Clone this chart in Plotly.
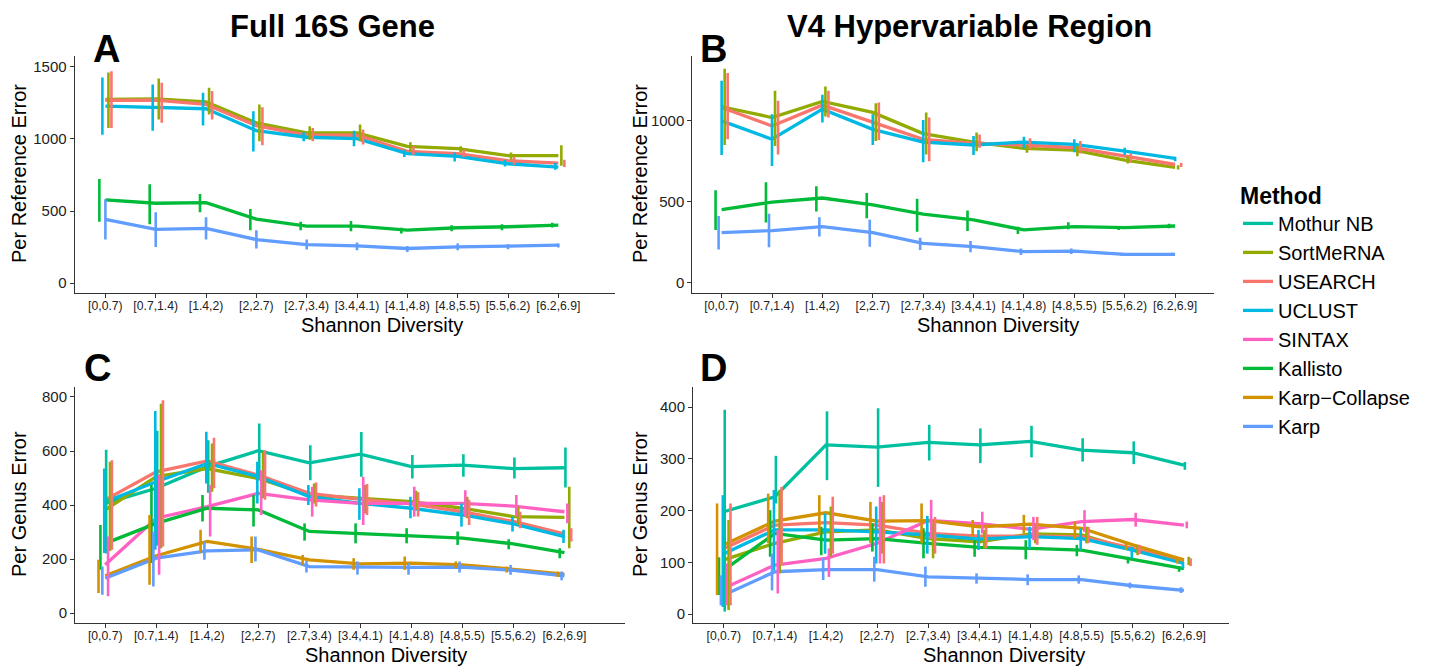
import plotly.graph_objects as go

W, H = 1429, 666

CATEGORIES = ["[0,0.7)", "[0.7,1.4)", "[1.4,2)", "[2,2.7)", "[2.7,3.4)",
              "[3.4,4.1)", "[4.1,4.8)", "[4.8,5.5)", "[5.5,6.2)", "[6.2,6.9]"]
METHODS = ["Mothur NB", "SortMeRNA", "USEARCH", "UCLUST", "SINTAX",
           "Kallisto", "Karp-Collapse", "Karp"]
LEGEND_LABELS = {"Karp-Collapse": "Karp\u2212Collapse"}

# ---------------- Panel A: Full 16S, per reference error ----------------
A_MEAN = {
    "SortMeRNA": [1275, 1279, 1258, 1112, 1042, 1042, 949, 933, 884, 884],
    "USEARCH":   [1268, 1270, 1240, 1093, 1026, 1026, 914, 898, 849, 833],
    "UCLUST":    [1228, 1221, 1210, 1058, 1012, 1003, 898, 879, 828, 805],
    "Kallisto":  [577, 554, 558, 444, 395, 395, 367, 384, 391, 402],
    "Karp":      [442, 372, 379, 302, 267, 258, 240, 251, 256, 263],
}
A_LO = {
    "SortMeRNA": [1077, 1135, 1170, 984, 995, 984, 914, 907, 856, 814],
    "USEARCH":   [1077, 1112, 1135, 956, 984, 961, 891, 875, 821, 805],
    "UCLUST":    [1030, 1058, 1093, 914, 984, 949, 875, 844, 809, 786],
    "Kallisto":  [426, 409, 491, 367, 367, 360, 344, 360, 367, 386],
    "Karp":      [302, 251, 302, 240, 233, 228, 216, 228, 235, 247],
}
A_HI = {
    "SortMeRNA": [1461, 1419, 1356, 1240, 1088, 1100, 977, 949, 907, 956],
    "USEARCH":   [1470, 1391, 1333, 1221, 1077, 1065, 949, 926, 879, 856],
    "UCLUST":    [1426, 1379, 1321, 1193, 1047, 1058, 926, 907, 856, 833],
    "Kallisto":  [723, 686, 619, 514, 426, 430, 384, 402, 409, 419],
    "Karp":      [581, 491, 456, 367, 302, 281, 258, 274, 270, 274],
}

# ---------------- Panel B: V4, per reference error ----------------
B_MEAN = {
    "SortMeRNA": [1083, 1017, 1116, 1048, 918, 866, 827, 817, 755, 711],
    "USEARCH":   [1078, 965, 1093, 986, 883, 858, 848, 831, 779, 728],
    "UCLUST":    [996, 883, 1068, 944, 866, 848, 866, 852, 810, 765],
    "Kallisto":  [450, 497, 522, 480, 423, 388, 326, 346, 340, 350],
    "Karp":      [309, 322, 346, 309, 243, 223, 192, 196, 175, 175],
}
B_LO = {
    "SortMeRNA": [848, 841, 1023, 872, 790, 810, 800, 779, 734, 697],
    "USEARCH":   [883, 790, 1017, 878, 748, 831, 821, 796, 738, 713],
    "UCLUST":    [786, 718, 986, 848, 742, 786, 827, 804, 786, 748],
    "Kallisto":  [326, 371, 439, 398, 315, 319, 301, 330, 326, 336],
    "Karp":      [206, 219, 285, 223, 202, 188, 171, 177, 165, 165],
}
B_HI = {
    "SortMeRNA": [1316, 1182, 1208, 1105, 1048, 924, 848, 841, 779, 724],
    "USEARCH":   [1291, 1120, 1182, 1109, 1017, 913, 889, 872, 796, 738],
    "UCLUST":    [1243, 1037, 1157, 1037, 1002, 903, 899, 883, 831, 775],
    "Kallisto":  [569, 619, 594, 553, 518, 445, 346, 373, 350, 363],
    "Karp":      [412, 425, 404, 388, 278, 258, 212, 212, 186, 186],
}

# ---------------- Panel C: Full 16S, per genus error ----------------
C_MEAN = {
    "Mothur NB":     [406, 462, 542, 601, 556, 588, 542, 548, 535, 538],
    "SortMeRNA":     [382, 505, 535, 498, 437, 425, 412, 388, 357, 354],
    "USEARCH":       [419, 523, 563, 511, 443, 421, 404, 375, 339, 293],
    "UCLUST":        [412, 486, 554, 505, 431, 406, 388, 363, 330, 283],
    "SINTAX":        [179, 351, 394, 443, 419, 406, 406, 406, 396, 375],
    "Kallisto":      [258, 332, 388, 382, 302, 295, 286, 277, 256, 224],
    "Karp-Collapse": [138, 212, 265, 236, 197, 182, 185, 178, 162, 144],
    "Karp":          [129, 203, 230, 234, 172, 169, 169, 170, 158, 138],
}
C_LO = {
    "Mothur NB":     [220, 250, 445, 505, 492, 505, 498, 505, 498, 465],
    "SortMeRNA":     [230, 240, 449, 425, 406, 369, 382, 351, 326, 240],
    "USEARCH":       [234, 246, 462, 419, 394, 363, 357, 326, 314, 265],
    "UCLUST":        [222, 234, 480, 406, 400, 345, 351, 320, 302, 259],
    "SINTAX":        [62, 142, 283, 363, 357, 326, 357, 357, 357, 332],
    "Kallisto":      [160, 185, 339, 320, 268, 258, 258, 252, 236, 203],
    "Karp-Collapse": [74, 105, 222, 185, 178, 160, 160, 166, 150, 133],
    "Karp":          [68, 98, 197, 191, 150, 142, 142, 150, 142, 121],
}
C_HI = {
    "Mothur NB":     [605, 675, 640, 702, 621, 670, 585, 588, 576, 613],
    "SortMeRNA":     [560, 775, 628, 597, 480, 474, 453, 431, 394, 468],
    "USEARCH":       [566, 788, 649, 603, 483, 478, 447, 419, 375, 314],
    "UCLUST":        [535, 748, 671, 560, 474, 462, 431, 406, 357, 308],
    "SINTAX":        [283, 511, 474, 529, 468, 505, 468, 455, 437, 406],
    "Kallisto":      [326, 474, 437, 437, 332, 332, 314, 302, 273, 240],
    "Karp-Collapse": [197, 363, 308, 283, 215, 203, 209, 191, 172, 154],
    "Karp":          [172, 302, 265, 283, 193, 191, 185, 191, 178, 154],
}

# ---------------- Panel D: V4, per genus error ----------------
D_MEAN = {
    "Mothur NB":     [198, 227, 327, 323, 332, 327, 334, 317, 312, 288],
    "SortMeRNA":     [105, 137, 159, 163, 146, 140, 155, 153, 124, 105],
    "USEARCH":       [127, 172, 177, 172, 156, 151, 151, 150, 127, 101],
    "UCLUST":        [117, 163, 163, 159, 153, 145, 150, 146, 124, 98],
    "SINTAX":        [50, 95, 108, 137, 181, 175, 164, 179, 183, 172],
    "Kallisto":      [85, 156, 143, 146, 137, 129, 127, 124, 106, 88],
    "Karp-Collapse": [134, 180, 196, 180, 181, 169, 174, 166, 134, 105],
    "Karp":          [37, 82, 86, 86, 72, 69, 67, 67, 55, 46],
}
D_LO = {
    "Mothur NB":     [5, 214, 259, 246, 297, 292, 303, 295, 290, 279],
    "SortMeRNA":     [8, 79, 111, 117, 108, 127, 137, 137, 114, 95],
    "USEARCH":       [17, 95, 117, 98, 117, 127, 134, 137, 116, 93],
    "UCLUST":        [14, 85, 117, 98, 117, 124, 127, 124, 108, 88],
    "SINTAX":        [17, 40, 72, 98, 146, 156, 143, 159, 169, 166],
    "Kallisto":      [37, 111, 114, 121, 108, 111, 106, 112, 98, 82],
    "Karp-Collapse": [37, 137, 153, 137, 137, 150, 156, 146, 124, 98],
    "Karp":          [17, 46, 66, 63, 53, 59, 56, 59, 50, 41],
}
D_HI = {
    "Mothur NB":     [395, 306, 392, 398, 366, 359, 364, 340, 334, 294],
    "SortMeRNA":     [182, 240, 208, 217, 176, 163, 172, 169, 134, 111],
    "USEARCH":       [214, 246, 227, 230, 188, 169, 188, 169, 134, 108],
    "UCLUST":        [230, 240, 195, 208, 190, 163, 169, 166, 130, 101],
    "SINTAX":        [98, 163, 127, 227, 221, 198, 188, 201, 196, 179],
    "Kallisto":      [110, 201, 169, 176, 166, 143, 143, 134, 111, 93],
    "Karp-Collapse": [214, 233, 230, 217, 214, 182, 192, 179, 140, 109],
    "Karp":          [75, 117, 108, 111, 92, 79, 77, 75, 61, 52],
}

A_YTICKS = [0, 500, 1000, 1500]
B_YTICKS = [0, 500, 1000]
C_YTICKS = [0, 200, 400, 600, 800]
D_YTICKS = [0, 100, 200, 300, 400]

# ---------------- styling ----------------
COLORS = {
    "Mothur NB": "#00C19F", "SortMeRNA": "#93AA00", "USEARCH": "#F8766D",
    "UCLUST": "#00B9E3", "SINTAX": "#FF61C3", "Kallisto": "#00BA38",
    "Karp-Collapse": "#D39200", "Karp": "#619CFF",
}
DODGE_WIDTH = 0.3
FONT = "Liberation Sans, Arial, sans-serif"

panels = [
    # name, mean, lo, hi, dodge order, xdomain(px), ydomain(px top,bottom), xrange, yrange, yticks
    ("1", A_MEAN, A_LO, A_HI, ["Kallisto", "UCLUST", "Karp", "SortMeRNA", "USEARCH"],
     (74.7, 614.7), (56, 293), (-0.61, 10.12), (-69, 1576), A_YTICKS),
    ("2", B_MEAN, B_LO, B_HI, ["Kallisto", "Karp", "UCLUST", "SortMeRNA", "USEARCH"],
     (692.4, 1214.4), (56, 293), (-0.58, 9.78), (-62, 1395), B_YTICKS),
    ("3", C_MEAN, C_LO, C_HI, ["Karp-Collapse", "Kallisto", "Karp", "UCLUST",
                               "Mothur NB", "SINTAX", "SortMeRNA", "USEARCH"],
     (75.1, 624.7), (387, 623), (-0.59, 10.18), (-37, 837), C_YTICKS),
    ("4", D_MEAN, D_LO, D_HI, ["Karp-Collapse", "Kallisto", "Karp", "UCLUST",
                               "Mothur NB", "SINTAX", "SortMeRNA", "USEARCH"],
     (693.1, 1228.9), (387, 623), (-0.6, 9.88), (-17, 439), D_YTICKS),
]

fig = go.Figure()
layout = dict(
    width=W, height=H, margin=dict(l=0, r=0, t=0, b=0),
    paper_bgcolor="white", plot_bgcolor="white",
    font=dict(family=FONT, color="#222"),
    showlegend=True,
)

xpos = list(range(len(CATEGORIES)))

for name, MEAN, LO, HI, order, xd, yd, xr, yr, yticks in panels:
    xa = "x" if name == "1" else "x" + name
    ya = "y" if name == "1" else "y" + name
    legend_panel = name == "3"
    present = [m for m in METHODS if m in MEAN]
    n = len(order)
    # lines
    for m in present:
        fig.add_trace(go.Scatter(
            x=xpos, y=MEAN[m], mode="lines", xaxis=xa, yaxis=ya,
            line=dict(color=COLORS[m], width=3.3),
            name=LEGEND_LABELS.get(m, m), legendgroup=m,
            showlegend=legend_panel, hoverinfo="skip"))
    # error bars (dodged)
    for m in present:
        off = (order.index(m) - (n - 1) / 2) * DODGE_WIDTH / n
        ex, ey = [], []
        for i in xpos:
            ex += [i + off, i + off, None]
            ey += [LO[m][i], HI[m][i], None]
        fig.add_trace(go.Scatter(
            x=ex, y=ey, mode="lines", xaxis=xa, yaxis=ya,
            line=dict(color=COLORS[m], width=2.6),
            legendgroup=m, showlegend=False, hoverinfo="skip"))

    axis_common = dict(showline=True, linecolor="#333", linewidth=1.2,
                       ticks="outside", ticklen=4, tickcolor="#333", tickwidth=1.1,
                       showgrid=False, zeroline=False, automargin=False)
    layout["xaxis" + ("" if name == "1" else name)] = dict(
        domain=[xd[0] / W, xd[1] / W], range=list(xr), anchor=ya,
        tickmode="array", tickvals=xpos, ticktext=CATEGORIES, tickangle=0,
        ticklabelstandoff=-3,
        tickfont=dict(size=12.2, color="#222", family=FONT), **axis_common)
    layout["yaxis" + ("" if name == "1" else name)] = dict(
        domain=[1 - yd[1] / H, 1 - yd[0] / H], range=list(yr), anchor=xa,
        tickmode="array", tickvals=yticks, ticktext=[str(v) for v in yticks],
        tickfont=dict(size=15, color="#222", family=FONT), **axis_common)

def ann(text, px, py, size, bold=False, angle=0):
    return dict(text=f"<b>{text}</b>" if bold else text, x=px / W, y=1 - py / H,
                xref="paper", yref="paper", showarrow=False, textangle=angle,
                xanchor="center", yanchor="middle",
                font=dict(size=size, color="black", family=FONT))

annotations = [
    ann("Full 16S Gene", 332, 26, 31, bold=True),
    ann("V4 Hypervariable Region", 969, 26, 31, bold=True),
    ann("A", 106, 49, 38, bold=True),
    ann("B", 713, 49, 38, bold=True),
    ann("C", 97, 368, 38, bold=True),
    ann("D", 713, 368, 38, bold=True),
    ann("Per Reference Error", 19, 174, 20, angle=-90),
    ann("Per Reference Error", 640, 174, 20, angle=-90),
    ann("Per Genus Error", 19, 504, 20, angle=-90),
    ann("Per Genus Error", 640, 504, 20, angle=-90),
    ann("Shannon Diversity", 382, 325, 20),
    ann("Shannon Diversity", 998, 325, 20),
    ann("Shannon Diversity", 386, 655, 20),
    ann("Shannon Diversity", 1004, 655, 20),
]
layout["annotations"] = annotations
layout["legend"] = dict(
    x=1238 / W, y=1 - 174 / H, xanchor="left", yanchor="top",
    title=dict(text="<b>Method</b>", font=dict(size=23, color="black", family=FONT)),
    font=dict(size=20, color="black", family=FONT),
    bgcolor="rgba(0,0,0,0)", itemwidth=30, tracegroupgap=0,
)

fig.update_layout(**layout)
fig.write_html("out.html", config={"displayModeBar": False},
               post_script="document.body.style.margin='0';document.body.style.overflow='hidden';")
